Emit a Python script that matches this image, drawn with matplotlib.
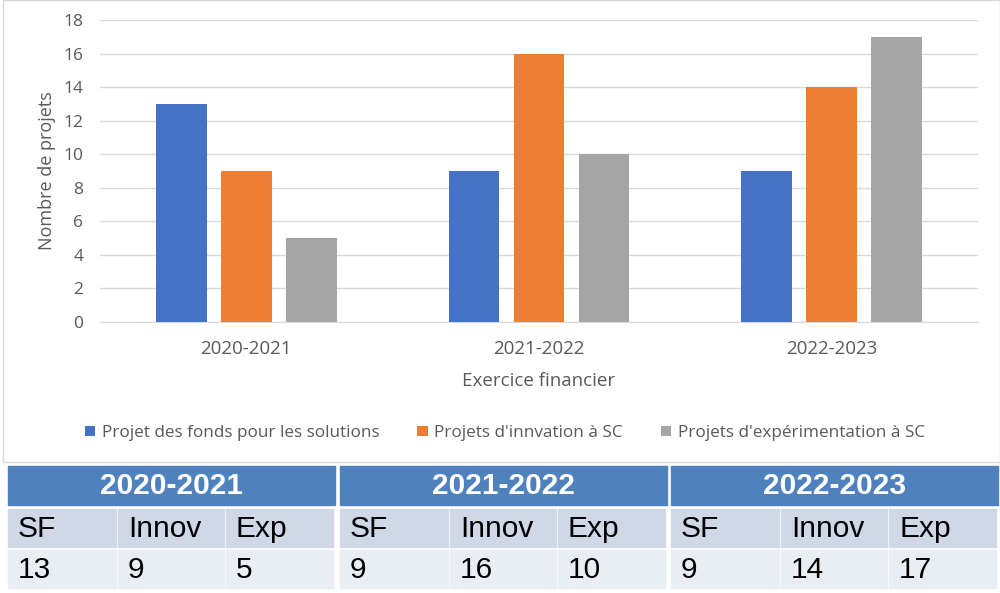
import numpy as np
import matplotlib.pyplot as plt
from matplotlib.patches import Rectangle

years = ["2020-2021", "2021-2022", "2022-2023"]
series_names = [
    "Projet des fonds pour les solutions",
    "Projets d'innvation à SC",
    "Projets d'expérimentation à SC",
]
fonds = [13, 9, 9]
innov = [9, 16, 14]
exper = [5, 10, 17]
short_names = ["SF", "Innov", "Exp"]

colors = ["#4472C4", "#ED7D31", "#A5A5A5"]
txt = "#595959"
chart_font = "Open Sans"

fig = plt.figure(figsize=(10, 5.93), dpi=100)

# chart frame
fig.patches.append(Rectangle((0.003, 1 - 462 / 593), 0.997, 462 / 593,
                             transform=fig.transFigure, fill=False,
                             edgecolor="#d9d9d9", lw=1))

ax = fig.add_axes([0.1, 1 - 322 / 593, 0.878, 302 / 593])
x = np.arange(len(years))
w = 0.174
step = 0.222
for i, vals in enumerate([fonds, innov, exper]):
    ax.bar(x + (i - 1) * step, vals, width=w, color=colors[i],
           label=series_names[i], zorder=3)

ax.set_xlim(-0.5, 2.5)
ax.set_ylim(0, 18)
ax.set_yticks(range(0, 19, 2))
ax.set_xticks(x)
ax.set_xticklabels(years)
ax.grid(axis="y", color="#d9d9d9", lw=1, zorder=0)
for s in ["top", "right", "left"]:
    ax.spines[s].set_visible(False)
ax.spines["bottom"].set_color("#d9d9d9")
ax.tick_params(length=0, colors=txt, labelsize=12.5, pad=12)
ax.tick_params(axis="x", labelsize=13.5, pad=13)
for lab in ax.get_xticklabels() + ax.get_yticklabels():
    lab.set_fontfamily(chart_font)
ax.set_ylabel("Nombre de projets", color=txt, fontsize=13,
              fontfamily=chart_font, labelpad=5)
ax.set_xlabel("Exercice financier", color=txt, fontsize=13.5,
              fontfamily=chart_font, labelpad=10)

fig.legend(loc="center", bbox_to_anchor=(0.505, 1 - 433 / 593), ncol=3,
           frameon=False, handlelength=0.6, handleheight=0.6,
           handletextpad=0.4, columnspacing=2.2,
           prop={"family": chart_font, "size": 12.3}, labelcolor=txt)

# table below chart
tab = fig.add_axes([0, 0, 1, 1])
tab.set_xlim(0, 1000)
tab.set_ylim(593, 0)
tab.axis("off")

group_x = [8, 340, 671]
group_w = 327
sub_w = [110, 108, 109]
rows_y = [(466, 39), (509, 38), (550, 38)]
row_colors = ["#4F81BD", "#D0D8E8", "#E9EDF4"]
values = [[fonds[j], innov[j], exper[j]] for j in range(len(years))]

for g, gx in enumerate(group_x):
    y0, h0 = rows_y[0]
    tab.add_patch(Rectangle((gx, y0), group_w, h0, color=row_colors[0]))
    tab.text(gx + group_w / 2, y0 + h0 / 2 + 1, years[g], color="white",
             fontsize=21.5, fontweight="bold", family="Liberation Sans",
             ha="center", va="center")
    cx = gx
    for k in range(3):
        for r in (1, 2):
            y, h = rows_y[r]
            tab.add_patch(Rectangle((cx, y), sub_w[k] - 2, h,
                                    color=row_colors[r]))
            label = short_names[k] if r == 1 else str(values[g][k])
            tab.text(cx + 10, y + h / 2 + 1, label, color="black",
                     fontsize=21.5, family="Liberation Sans",
                     ha="left", va="center")
        cx += sub_w[k]

fig.savefig("out.png", dpi=100)
